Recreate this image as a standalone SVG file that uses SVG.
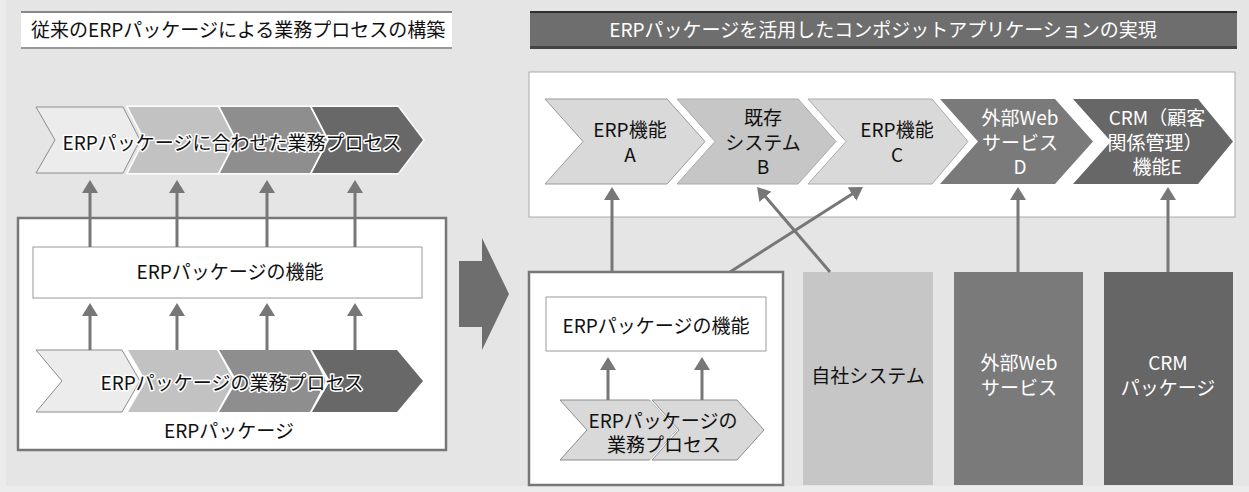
<svg xmlns="http://www.w3.org/2000/svg" width="1249" height="492" viewBox="0 0 1249 492">
<defs>
<style>
text{font-family:"Noto Sans CJK JP","Liberation Sans",sans-serif;font-size:19px;fill:#111;}
.c{text-anchor:middle;}
.w{fill:#fff;}
.halo{stroke:#fff;stroke-width:3px;paint-order:stroke;stroke-linejoin:round;}
.gap{fill:#fff;stroke:#fff;stroke-width:3;stroke-linejoin:miter;}
.ln{stroke:#777;stroke-width:3;fill:none;}
.box{fill:#fff;stroke:#777;stroke-width:2.5;}
.fbox{fill:#fff;stroke:#999;stroke-width:1;}
</style>
<marker id="ah" viewBox="0 0 13 16" markerWidth="13" markerHeight="16" refX="2" refY="8" orient="auto" markerUnits="userSpaceOnUse">
<path d="M0,0 L13,8 L0,16 z" fill="#777"/>
</marker>
</defs>
<rect x="0" y="0" width="1249" height="492" fill="#ececec"/>
<rect x="6" y="0" width="1243" height="486" fill="#e5e5e5"/>

<!-- Left title -->
<g id="title-left">
<rect x="21" y="11" width="431" height="38" fill="#fff"/>
<rect x="21" y="11" width="431" height="2" fill="#888"/>
<rect x="21" y="47" width="431" height="2" fill="#999"/>
<text x="31" y="37">従来のERPパッケージによる業務プロセスの構築</text>
</g>

<!-- Right title -->
<g id="title-right">
<rect x="530" y="11" width="707" height="38" fill="#6e6e6e"/>
<rect x="530" y="11" width="707" height="2" fill="#2e2e2e"/>
<rect x="530" y="46" width="707" height="3" fill="#444"/>
<text class="c w" x="883" y="37">ERPパッケージを活用したコンポジットアプリケーションの実現</text>
</g>

<!-- Left: top chevrons -->
<g id="left-top-process">
<polygon points="36,107 123,107 140,140 123,173 36,173 55,140" fill="#ececec" stroke="#8c8c8c" stroke-width="1"/>
<polygon class="gap" points="128,107 218,107 235,140 218,173 128,173 145,140"/>
<polygon points="128,107 218,107 235,140 218,173 128,173 145,140" fill="#c2c2c2"/>
<polygon class="gap" points="220,107 310,107 327,140 310,173 220,173 237,140"/>
<polygon points="220,107 310,107 327,140 310,173 220,173 237,140" fill="#8e8e8e"/>
<polygon class="gap" points="312,107 398,107 423,140 398,173 312,173 329,140"/>
<polygon points="312,107 398,107 423,140 398,173 312,173 329,140" fill="#686868"/>
<text class="c halo" x="232" y="150">ERPパッケージに合わせた業務プロセス</text>
</g>

<!-- Left big box -->
<g id="left-erp-package">
<rect class="box" x="18" y="218" width="428" height="232"/>
<text class="c" x="229" y="438">ERPパッケージ</text>
</g>

<g id="left-function">
<rect class="fbox" x="33" y="247" width="389" height="51"/>
<text class="c" x="230" y="279">ERPパッケージの機能</text>
</g>

<!-- Left: bottom chevrons -->
<g id="left-bottom-process">
<polygon points="36,350 122,350 140,381 122,412 36,412 62,381" fill="#ececec" stroke="#8c8c8c" stroke-width="1"/>
<polygon class="gap" points="128,350 217,350 234,381 217,412 128,412 146,381"/>
<polygon points="128,350 217,350 234,381 217,412 128,412 146,381" fill="#c2c2c2"/>
<polygon class="gap" points="219,350 310,350 326,381 310,412 219,412 237,381"/>
<polygon points="219,350 310,350 326,381 310,412 219,412 237,381" fill="#8e8e8e"/>
<polygon class="gap" points="312,350 397,350 423,381 397,412 312,412 330,381"/>
<polygon points="312,350 397,350 423,381 397,412 312,412 330,381" fill="#686868"/>
<text class="c halo" x="232" y="390">ERPパッケージの業務プロセス</text>
</g>

<!-- Big arrow -->
<g id="transition-arrow">
<polygon points="459,261 482,261 482,238 509,294 482,350 482,327 459,327" fill="#6e6e6e"/>
</g>

<!-- Right panel -->
<g id="composite-panel">
<rect x="529" y="72" width="706" height="145" fill="#fff" stroke="#aaa" stroke-width="1"/>
</g>

<g id="chevron-A">
<polygon points="545,99 667,99 705,141.5 667,184 545,184 583,141.5" fill="#d9d9d9" stroke="#999" stroke-width="1"/>
<text class="c" x="630" y="137">ERP機能</text>
<text class="c" x="630" y="162">A</text>
</g>
<g id="chevron-B">
<polygon class="gap" points="677,99 798,99 836,141.5 798,184 677,184 715,141.5"/>
<polygon points="677,99 798,99 836,141.5 798,184 677,184 715,141.5" fill="#c6c6c6" stroke="#aaa" stroke-width="1"/>
<text class="c" x="763" y="125">既存</text>
<text class="c" x="763" y="150">システム</text>
<text class="c" x="763" y="174">B</text>
</g>
<g id="chevron-C">
<polygon class="gap" points="808,99 932,99 968,141.5 932,184 808,184 846,141.5"/>
<polygon points="808,99 932,99 968,141.5 932,184 808,184 846,141.5" fill="#d9d9d9" stroke="#aaa" stroke-width="1"/>
<text class="c" x="897" y="137">ERP機能</text>
<text class="c" x="897" y="162">C</text>
</g>
<g id="chevron-D">
<polygon class="gap" points="940,99 1055,99 1093,141.5 1055,184 940,184 978,141.5"/>
<polygon points="940,99 1055,99 1093,141.5 1055,184 940,184 978,141.5" fill="#7a7a7a"/>
<text class="c w" x="1020" y="125">外部Web</text>
<text class="c w" x="1020" y="150">サービス</text>
<text class="c w" x="1020" y="174">D</text>
</g>
<g id="chevron-E">
<polygon class="gap" points="1073,99 1198,99 1233,141.5 1198,184 1073,184 1111,141.5"/>
<polygon points="1073,99 1198,99 1233,141.5 1198,184 1073,184 1111,141.5" fill="#676767"/>
<text class="c w" x="1157" y="125">CRM（顧客</text>
<text class="c w" x="1155" y="150">関係管理）</text>
<text class="c w" x="1157" y="174">機能E</text>
</g>

<!-- Right lower ERP box -->
<g id="right-erp-package">
<rect class="box" x="529" y="272" width="254" height="213"/>
</g>
<g id="right-function">
<rect class="fbox" x="546" y="297" width="220" height="54"/>
<text class="c" x="656" y="333">ERPパッケージの機能</text>
</g>
<g id="right-process">
<polygon points="560,400 650,400 677,430 650,460 560,460 587,430" fill="#d9d9d9" stroke="#8c8c8c" stroke-width="1"/>
<polygon class="gap" points="652,400 737,400 764,430 737,460 652,460 679,430"/>
<polygon points="652,400 737,400 764,430 737,460 652,460 679,430" fill="#d9d9d9" stroke="#8c8c8c" stroke-width="1"/>
<text class="c" x="663" y="428">ERPパッケージの</text>
<text class="c" x="664" y="452">業務プロセス</text>
</g>

<g id="own-system">
<rect x="803" y="272" width="130" height="213" fill="#c6c6c6"/>
<text class="c" x="868" y="383">自社システム</text>
</g>
<g id="external-web">
<rect x="954" y="272" width="129" height="213" fill="#7a7a7a"/>
<text class="c w" x="1019" y="370">外部Web</text>
<text class="c w" x="1019" y="395">サービス</text>
</g>
<g id="crm-package">
<rect x="1104" y="272" width="129" height="213" fill="#666"/>
<text class="c w" x="1168" y="370">CRM</text>
<text class="c w" x="1168" y="395">パッケージ</text>
</g>

<!-- Connectors -->
<g id="connectors">
<line class="ln" x1="90" y1="247" x2="90" y2="191" marker-end="url(#ah)"/>
<line class="ln" x1="177" y1="247" x2="177" y2="191" marker-end="url(#ah)"/>
<line class="ln" x1="267" y1="247" x2="267" y2="191" marker-end="url(#ah)"/>
<line class="ln" x1="355" y1="247" x2="355" y2="191" marker-end="url(#ah)"/>
<line class="ln" x1="90" y1="350" x2="90" y2="314" marker-end="url(#ah)"/>
<line class="ln" x1="177" y1="350" x2="177" y2="314" marker-end="url(#ah)"/>
<line class="ln" x1="267" y1="350" x2="267" y2="314" marker-end="url(#ah)"/>
<line class="ln" x1="355" y1="350" x2="355" y2="314" marker-end="url(#ah)"/>
<line class="ln" x1="608" y1="400" x2="608" y2="368" marker-end="url(#ah)"/>
<line class="ln" x1="702" y1="400" x2="702" y2="368" marker-end="url(#ah)"/>
<line class="ln" x1="612" y1="272" x2="612" y2="198" marker-end="url(#ah)"/>
<line class="ln" x1="730" y1="272" x2="853.7" y2="192.9" marker-end="url(#ah)"/>
<line class="ln" x1="830" y1="272" x2="764.2" y2="195.3" marker-end="url(#ah)"/>
<line class="ln" x1="1018" y1="272" x2="1018" y2="198" marker-end="url(#ah)"/>
<line class="ln" x1="1168" y1="272" x2="1168" y2="198" marker-end="url(#ah)"/>
</g>
</svg>
